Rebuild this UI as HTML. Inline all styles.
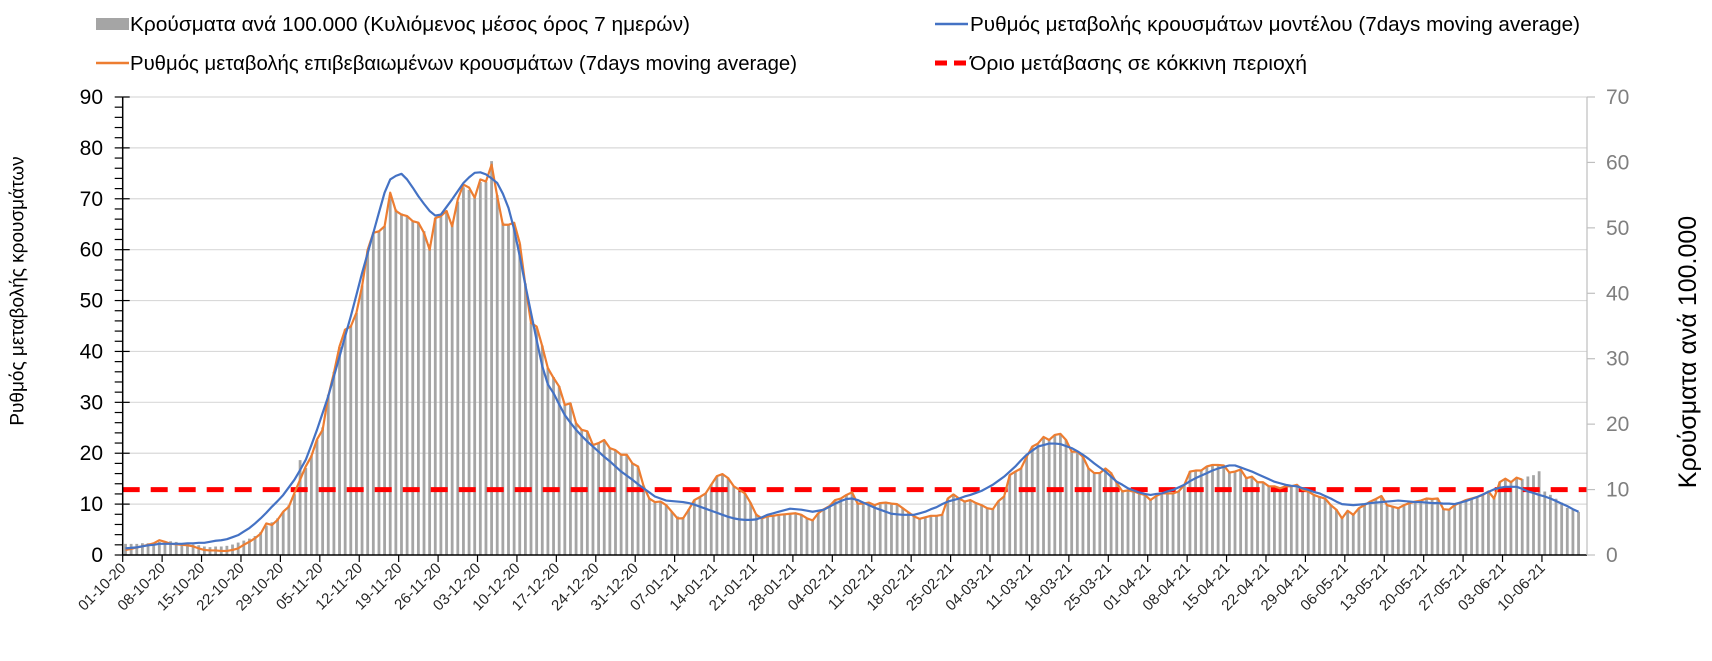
<!DOCTYPE html>
<html><head><meta charset="utf-8"><style>
html,body{margin:0;padding:0;background:#fff;}
svg{display:block;font-family:"Liberation Sans",Arial,sans-serif;}
</style></head><body>
<svg id="chart" width="1712" height="661" viewBox="0 0 1712 661">
<rect x="0" y="0" width="1712" height="661" fill="#fff"/>
<g id="grid"></g>
<g id="bars"></g>
<line id="redline" stroke="#ff0000" stroke-width="5" stroke-dasharray="17,11"/>
<path id="orange" fill="none" stroke="#ed7d31" stroke-width="2.2" stroke-linejoin="round"/>
<path id="blue" fill="none" stroke="#4472c4" stroke-width="2.2" stroke-linejoin="round"/>
<g id="axes"></g>
<text x="18" y="291" transform="rotate(-90 18 291)" text-anchor="middle" dominant-baseline="central" font-size="19" fill="#000">Ρυθμός μεταβολής κρουσμάτων</text>
<text x="1688" y="352" transform="rotate(-90 1688 352)" text-anchor="middle" dominant-baseline="central" font-size="25" fill="#000">Κρούσματα ανά 100.000</text>
<g>
 <g>
  <rect x="96" y="18" width="33" height="12" fill="#a5a5a5"/>
  <text x="130" y="31" font-size="20" textLength="560" lengthAdjust="spacingAndGlyphs" fill="#000">Κρούσματα ανά 100.000 (Κυλιόμενος μέσος όρος 7 ημερών)</text>
 </g>
 <g>
  <line x1="96" y1="63" x2="129" y2="63" stroke="#ed7d31" stroke-width="2.5"/>
  <text x="130" y="70" font-size="20" textLength="667" lengthAdjust="spacingAndGlyphs" fill="#000">Ρυθμός μεταβολής επιβεβαιωμένων κρουσμάτων (7days moving average)</text>
 </g>
 <g>
  <line x1="935" y1="24" x2="968" y2="24" stroke="#4472c4" stroke-width="2.5"/>
  <text x="970" y="31" font-size="20" textLength="610" lengthAdjust="spacingAndGlyphs" fill="#000">Ρυθμός μεταβολής κρουσμάτων μοντέλου (7days moving average)</text>
 </g>
 <g>
  <line x1="935" y1="63" x2="968" y2="63" stroke="#ff0000" stroke-width="5" stroke-dasharray="12,7"/>
  <text x="970" y="70" font-size="20" textLength="337" lengthAdjust="spacingAndGlyphs" fill="#000">Όριο μετάβασης σε κόκκινη περιοχή</text>
 </g>
</g>
</svg>
<script>
const startDate = [2020, 10, 1];
const leftTicks = [0,10,20,30,40,50,60,70,80,90];
const rightTicks = [0,10,20,30,40,50,60,70];
const threshold = [10];
const casesBars = [
1.7,1.7,1.7,1.8,1.8,1.9,2.0,2.1,2.1,2.0,
1.8,1.7,1.6,1.5,1.3,1.2,1.3,1.3,1.4,1.6,
1.9,2.2,2.5,2.9,3.5,4.5,5.0,5.6,6.6,7.6,
9.3,14.5,13.3,15.2,17.6,19.5,24.5,28.0,31.8,34.5,
35.0,37.0,41.2,46.5,49.3,49.6,50.2,55.0,52.8,52.2,
51.8,51.0,50.8,49.5,47.5,51.5,51.8,52.6,50.6,54.0,
56.2,55.8,54.6,57.0,57.0,60.2,55.0,50.8,50.5,50.8,
47.5,41.5,35.5,34.8,32.0,28.6,27.2,25.8,23.0,23.2,
20.2,19.2,18.9,16.8,17.1,17.5,16.4,16.0,15.4,15.3,
14.0,13.5,10.6,8.7,8.1,8.2,7.7,6.6,5.9,5.8,
7.0,8.4,8.9,9.4,10.8,12.0,12.4,11.8,10.5,10.0,
9.4,8.0,6.3,5.7,5.9,6.0,6.2,6.2,6.3,6.4,
6.2,5.7,5.4,6.4,7.0,7.5,8.4,8.6,9.2,9.6,
7.9,7.9,8.0,7.7,7.9,8.0,7.9,7.8,7.2,6.6,
6.0,5.6,5.8,6.0,6.0,6.2,8.6,9.3,8.7,8.2,
8.4,8.0,7.7,7.2,7.1,8.2,9.0,12.2,12.8,13.3,
15.0,16.6,17.0,18.0,17.6,18.4,18.5,17.6,15.8,15.8,
15.0,13.3,12.6,12.6,13.2,12.6,11.0,9.8,9.9,9.7,
9.4,9.2,8.5,9.0,9.4,9.4,9.4,9.7,10.8,12.8,
12.9,12.9,13.5,13.8,13.8,13.7,12.6,12.8,13.1,11.8,
12.0,11.2,11.1,10.5,10.5,10.2,10.5,10.5,10.7,10.0,
9.7,9.2,8.9,8.6,7.7,7.0,5.8,6.8,6.2,7.2,
7.6,8.2,8.6,9.0,7.7,7.4,7.2,7.6,7.9,8.2,
8.3,8.6,8.6,8.6,7.1,7.0,7.6,8.0,8.4,8.7,
8.9,9.2,9.7,8.8,11.2,11.7,11.1,11.8,11.6,12.0,
12.2,12.8,9.7,9.2,8.6,8.0,7.2,6.9,6.6];
const confirmedRate = [
1.0,1.2,1.5,1.7,2.0,2.3,2.9,2.6,2.2,2.1,
2.0,1.9,1.7,1.3,1.0,0.9,0.9,0.8,0.8,1.0,
1.3,2.0,2.6,3.3,4.2,6.2,5.9,6.9,8.5,9.5,
12.2,14.8,17.4,19.4,22.7,24.6,31.2,35.8,41.0,44.3,
44.9,47.6,52.8,60.0,63.3,63.6,64.6,71.2,67.6,66.9,
66.6,65.6,65.3,63.3,60.0,66.2,66.6,67.6,64.6,69.9,
72.8,72.2,70.2,73.8,73.4,76.7,70.5,64.9,64.9,65.3,
61.3,53.0,45.6,44.9,41.0,36.7,34.8,33.1,29.5,29.8,
25.9,24.6,24.3,21.6,22.0,22.6,21.0,20.6,19.7,19.7,
18.0,17.4,13.5,11.1,10.4,10.5,9.8,8.5,7.2,7.2,
8.9,10.8,11.4,12.1,13.8,15.5,15.9,15.1,13.5,12.8,
12.1,10.2,7.9,7.2,7.6,7.7,7.9,8.0,8.1,8.2,
7.9,7.2,6.8,8.2,9.0,9.6,10.8,11.1,11.8,12.3,
10.1,10.1,10.3,9.8,10.2,10.3,10.1,10.0,9.2,8.4,
7.6,7.1,7.4,7.7,7.7,7.9,11.1,11.9,11.1,10.5,
10.8,10.2,9.8,9.2,9.0,10.6,11.5,15.7,16.4,17.0,
19.3,21.3,21.9,23.2,22.6,23.6,23.8,22.6,20.3,20.3,
19.3,17.0,16.1,16.1,17.0,16.1,14.1,12.5,12.7,12.5,
12.1,11.8,10.8,11.6,12.1,12.1,12.1,12.5,13.8,16.4,
16.6,16.6,17.4,17.7,17.7,17.6,16.2,16.4,16.8,15.1,
15.4,14.3,14.3,13.5,13.5,13.1,13.5,13.5,13.8,12.8,
12.5,11.8,11.4,11.1,9.8,8.9,7.2,8.7,7.9,9.2,
9.8,10.5,11.0,11.6,9.8,9.5,9.2,9.8,10.2,10.5,
10.7,11.1,11.0,11.1,9.0,8.9,9.8,10.3,10.8,11.1,
11.4,11.8,12.5,11.1,14.3,15.0,14.3,15.2,14.8];
const modelRate = [
1.3,1.4,1.5,1.7,1.9,2.0,2.2,2.2,2.2,2.2,
2.2,2.3,2.3,2.4,2.4,2.6,2.8,2.9,3.1,3.5,
3.9,4.6,5.3,6.2,7.2,8.3,9.5,10.6,11.8,13.3,
14.8,16.7,18.7,21.6,24.6,27.9,31.2,35.1,39.0,43.0,
46.9,51.1,55.4,59.3,63.3,67.3,71.2,73.8,74.5,74.9,
73.8,72.2,70.5,69.0,67.6,66.7,66.9,68.4,69.9,71.5,
73.1,74.2,75.1,75.2,74.8,74.0,73.1,71.0,68.2,64.0,
58.7,53.0,47.6,42.2,37.1,33.5,31.8,29.6,27.5,26.0,
24.6,23.4,22.3,21.3,20.3,19.3,18.4,17.4,16.4,15.6,
14.8,13.9,13.1,12.3,11.5,11.1,10.7,10.6,10.5,10.4,
10.2,9.9,9.5,9.1,8.7,8.3,7.9,7.5,7.2,7.0,
6.9,6.9,7.0,7.4,7.9,8.2,8.5,8.8,9.1,9.0,
8.9,8.7,8.5,8.7,8.9,9.5,10.1,10.6,11.0,11.1,
10.8,10.3,9.8,9.3,8.9,8.5,8.1,8.0,7.9,7.9,
7.9,8.2,8.5,9.0,9.4,10.0,10.5,10.8,11.1,11.5,
11.8,12.2,12.6,13.2,13.8,14.6,15.4,16.4,17.4,18.6,
19.7,20.5,21.3,21.6,21.9,21.9,21.8,21.4,21.0,20.4,
19.7,18.9,18.0,17.2,16.4,15.4,14.4,13.8,13.1,12.7,
12.3,12.0,11.8,12.0,12.1,12.5,12.8,13.3,13.8,14.5,
15.1,15.6,16.1,16.6,17.0,17.3,17.6,17.6,17.2,16.8,
16.4,15.9,15.4,14.9,14.4,14.1,13.8,13.6,13.5,13.1,
12.8,12.4,12.1,11.6,11.1,10.5,10.0,9.9,9.8,9.9,
10.0,10.2,10.3,10.4,10.5,10.6,10.7,10.6,10.5,10.4,
10.4,10.3,10.2,10.2,10.1,10.1,10.0,10.3,10.6,11.0,
11.4,11.9,12.4,12.9,13.2,13.4,13.4,13.4,13.0,12.5,
12.2,11.8,11.5,11.1,10.6,10.1,9.6,9.0,8.5];

const NS = 'http://www.w3.org/2000/svg';
const X0 = 122.7, X1 = 1587, Y0 = 555, Y1 = 97;
const nDays = casesBars.length + 1;
const W = (X1 - X0) / nDays;
const LMAX = 90, RMAX = 70;
function xDay(d){ return X0 + (d + 0.5) * W; }
function xTick(d){ return X0 + d * W; }
function yL(v){ return Y0 - v / LMAX * (Y0 - Y1); }
function yR(v){ return Y0 - v / RMAX * (Y0 - Y1); }
function mk(tag, attrs, parent){ const e = document.createElementNS(NS, tag); for (const k in attrs) e.setAttribute(k, attrs[k]); parent.appendChild(e); return e; }
function pad(n){ return (n < 10 ? '0' : '') + n; }

const grid = document.getElementById('grid');
leftTicks.forEach(v => {
  if (v === 0) return;
  const l = mk('line', {x1: X0, x2: X1, y1: yL(v), y2: yL(v), stroke: '#d9d9d9', 'stroke-width': 1.2}, grid);
  
  
});

const bars = document.getElementById('bars');
casesBars.forEach((v, i) => {
  const r = mk('rect', {x: xDay(i) - 1.4, y: yR(v), width: 2.8, height: Y0 - yR(v), fill: '#a5a5a5'}, bars);
  
  
});

function linePath(arr){ return arr.map((v, i) => (i ? 'L' : 'M') + xDay(i).toFixed(2) + ',' + yL(v).toFixed(2)).join(''); }
document.getElementById('orange').setAttribute('d', linePath(confirmedRate));
document.getElementById('blue').setAttribute('d', linePath(modelRate));
const rl = document.getElementById('redline');
rl.setAttribute('x1', X0); rl.setAttribute('x2', X1);
rl.setAttribute('y1', yR(threshold[0])); rl.setAttribute('y2', yR(threshold[0]));

const axes = document.getElementById('axes');
let a = mk('line', {x1: X0, x2: X0, y1: Y1, y2: Y0, stroke: '#000', 'stroke-width': 1.5}, axes);
 
a = mk('line', {x1: X0, x2: X1, y1: Y0, y2: Y0, stroke: '#000', 'stroke-width': 1.5}, axes);
 
a = mk('line', {x1: X1, x2: X1, y1: Y1, y2: Y0, stroke: '#bfbfbf', 'stroke-width': 1.2}, axes);
 

for (let v = 0; v <= LMAX; v += 2) {
  const major = v % 10 === 0;
  const t = mk('line', {x1: X0 - 8, x2: major ? X0 + 7 : X0, y1: yL(v), y2: yL(v), stroke: '#000', 'stroke-width': 1.2}, axes);
  
  
}
leftTicks.forEach(v => {
  const t = mk('text', {x: 103, y: yL(v) + 7, 'text-anchor': 'end', 'font-size': 21, fill: '#000'}, axes);
  t.textContent = v;
  
  
});
rightTicks.forEach(v => {
  const t = mk('line', {x1: X1, x2: X1 + 8, y1: yR(v), y2: yR(v), stroke: '#bfbfbf', 'stroke-width': 1.2}, axes);
  
  
  const s = mk('text', {x: 1606, y: yR(v) + 7, 'font-size': 21, fill: '#7f7f7f'}, axes);
  s.textContent = v;
  
  
});
for (let d = 0; d < nDays - 1; d += 7) {
  const x = xTick(d);
  const t = mk('line', {x1: x, x2: x, y1: Y0, y2: Y0 + 7, stroke: '#000', 'stroke-width': 1.2}, axes);
  
  
  const dt = new Date(startDate[0], startDate[1] - 1, startDate[2] + d);
  const lbl = pad(dt.getDate()) + '-' + pad(dt.getMonth() + 1) + '-' + String(dt.getFullYear()).slice(2);
  const tx = mk('text', {x: x + 4, y: Y0 + 14, 'text-anchor': 'end', 'font-size': 15, fill: '#262626', transform: 'rotate(-45 ' + (x + 4) + ' ' + (Y0 + 14) + ')'}, axes);
  tx.textContent = lbl;
  
  
}
</script>
</body></html>
